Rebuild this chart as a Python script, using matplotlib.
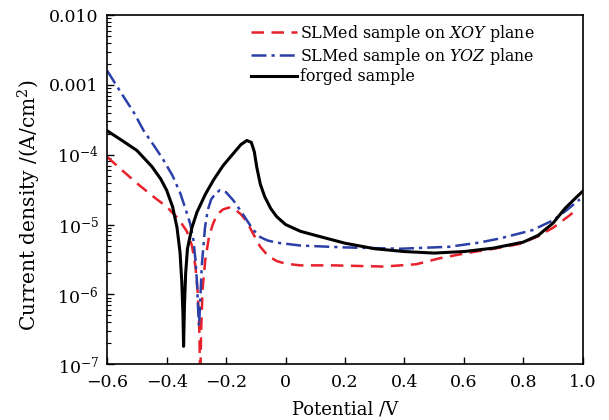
import matplotlib
matplotlib.use('Agg')
import matplotlib.pyplot as plt
from matplotlib.ticker import FixedLocator, FixedFormatter, LogLocator, NullFormatter

plt.rcParams['font.family'] = 'DejaVu Serif'
plt.rcParams['mathtext.fontset'] = 'dejavuserif'

# forged sample
v_forged = [-0.6, -0.55, -0.5, -0.45, -0.42, -0.4, -0.38, -0.365, -0.355, -0.349,
            -0.345, -0.343, -0.34, -0.336, -0.33, -0.315, -0.298, -0.27, -0.243, -0.21,
            -0.175, -0.15, -0.13, -0.115, -0.105, -0.097, -0.085, -0.07, -0.05, -0.03,
            0.0, 0.05, 0.1, 0.2, 0.3, 0.4, 0.5, 0.6, 0.7, 0.8,
            0.85, 0.9, 0.94, 0.98, 1.0]
i_forged = [2.2e-4, 1.6e-4, 1.15e-4, 6.8e-5, 4.5e-5, 3.1e-5, 1.8e-5, 9e-6, 4e-6, 1.5e-6,
            5e-7, 1.8e-7, 7e-7, 2e-6, 4.5e-6, 9e-6, 1.5e-5, 2.7e-5, 4.3e-5, 7e-5,
            1.05e-4, 1.4e-4, 1.6e-4, 1.5e-4, 1.1e-4, 6.7e-5, 3.8e-5, 2.5e-5, 1.7e-5, 1.3e-5,
            1.0e-5, 8e-6, 7e-6, 5.4e-6, 4.5e-6, 4.1e-6, 3.9e-6, 4.1e-6, 4.6e-6, 5.6e-6,
            7e-6, 1.05e-5, 1.7e-5, 2.5e-5, 3.0e-5]

# SLMed, XOY plane
v_xoy = [-0.6, -0.55, -0.5, -0.444, -0.4, -0.36, -0.332, -0.315, -0.303, -0.295,
         -0.29, -0.287, -0.284, -0.279, -0.27, -0.258, -0.245, -0.23, -0.21, -0.19,
         -0.17, -0.15, -0.13, -0.11, -0.085, -0.06, -0.03, 0.0, 0.05, 0.16,
         0.33, 0.44, 0.52, 0.61, 0.7, 0.79, 0.85, 0.9, 0.95, 0.985]
i_xoy = [9.3e-5, 6e-5, 3.9e-5, 2.5e-5, 1.8e-5, 1.2e-5, 8e-6, 5e-6, 2.5e-6, 1e-6,
         3e-7, 5e-8, 3e-7, 1.2e-6, 3.1e-6, 6.5e-6, 1e-5, 1.4e-5, 1.65e-5, 1.75e-5,
         1.65e-5, 1.4e-5, 1.1e-5, 7.5e-6, 4.8e-6, 3.6e-6, 3e-6, 2.75e-6, 2.6e-6, 2.6e-6,
         2.5e-6, 2.7e-6, 3.3e-6, 3.9e-6, 4.5e-6, 5.3e-6, 6.8e-6, 9e-6, 1.3e-5, 1.7e-5]

# SLMed, YOZ plane
v_yoz = [-0.6, -0.57, -0.544, -0.51, -0.477, -0.44, -0.41, -0.38, -0.354, -0.335,
         -0.32, -0.31, -0.303, -0.298, -0.294, -0.291, -0.287, -0.282, -0.271, -0.262,
         -0.25, -0.235, -0.221, -0.2, -0.175, -0.15, -0.13, -0.11, -0.085, -0.06,
         -0.03, 0.05, 0.2, 0.385, 0.55, 0.65, 0.72, 0.83, 0.9, 0.945, 0.99]
i_yoz = [1.6e-3, 1.0e-3, 6.7e-4, 4e-4, 2.2e-4, 1.3e-4, 8.3e-5, 5e-5, 2.8e-5, 1.6e-5,
         1e-5, 6e-6, 3.1e-6, 1.5e-6, 6e-7, 3.5e-7, 8e-7, 2.5e-6, 9e-6, 1.6e-5,
         2.3e-5, 2.8e-5, 3.1e-5, 2.9e-5, 2.2e-5, 1.55e-5, 1.15e-5, 8.5e-6, 6.6e-6, 5.9e-6,
         5.5e-6, 5e-6, 4.7e-6, 4.5e-6, 4.8e-6, 5.5e-6, 6.3e-6, 8.3e-6, 1.15e-5, 1.6e-5, 2.3e-5]

y_ticks = [1e-7, 1e-6, 1e-5, 1e-4, 1e-3, 1e-2]
y_labels = [r'$10^{-7}$', r'$10^{-6}$', r'$10^{-5}$', r'$10^{-4}$', '0.001', '0.010']
x_ticks = [-0.6, -0.4, -0.2, 0, 0.2, 0.4, 0.6, 0.8, 1.0]
x_labels = ['\u22120.6', '\u22120.4', '\u22120.2', '0', '0.2', '0.4', '0.6', '0.8', '1.0']

fig = plt.figure(figsize=(6.09, 4.2), dpi=100)
ax = fig.add_axes([0.176, 0.133, 0.781, 0.831])

ax.plot(v_xoy, i_xoy, color='#e8212b', lw=1.8, dashes=(5, 3),
        label=r'SLMed sample on $\mathit{XOY}$ plane')
ax.plot(v_yoz, i_yoz, color='#2b3fa8', lw=1.8, dashes=(6, 2, 1.3, 2),
        label=r'SLMed sample on $\mathit{YOZ}$ plane')
ax.plot(v_forged, i_forged, color='black', lw=2.2, label='forged sample')

ax.set_yscale('log')
ax.set_xlim(-0.6, 1.0)
ax.set_ylim(1e-7, 1e-2)

ax.yaxis.set_major_locator(FixedLocator(y_ticks))
ax.yaxis.set_major_formatter(FixedFormatter(y_labels))
ax.yaxis.set_minor_locator(LogLocator(base=10, subs=range(2, 10)))
ax.yaxis.set_minor_formatter(NullFormatter())
ax.xaxis.set_major_locator(FixedLocator(x_ticks))
ax.xaxis.set_major_formatter(FixedFormatter(x_labels))

ax.tick_params(which='both', direction='in', top=False, right=False, labelsize=12.5)
ax.tick_params(which='major', length=5, width=1)
ax.tick_params(which='minor', length=3, width=0.8)
ax.tick_params(axis='x', pad=7)
ax.tick_params(axis='y', pad=6)
for s in ax.spines.values():
    s.set_linewidth(1.2)

ax.set_xlabel('Potential /V', fontsize=13, labelpad=7)
ax.set_ylabel(r'Current density /(A/cm$^2$)', fontsize=14.5)
ax.yaxis.set_label_coords(-0.135, 0.456)

ax.legend(loc='upper left', bbox_to_anchor=(0.285, 1.0), frameon=False, fontsize=11.4,
          handlelength=2.9, handletextpad=0.2, labelspacing=0.1, borderaxespad=0.1)

fig.savefig('out.png', dpi=100)
